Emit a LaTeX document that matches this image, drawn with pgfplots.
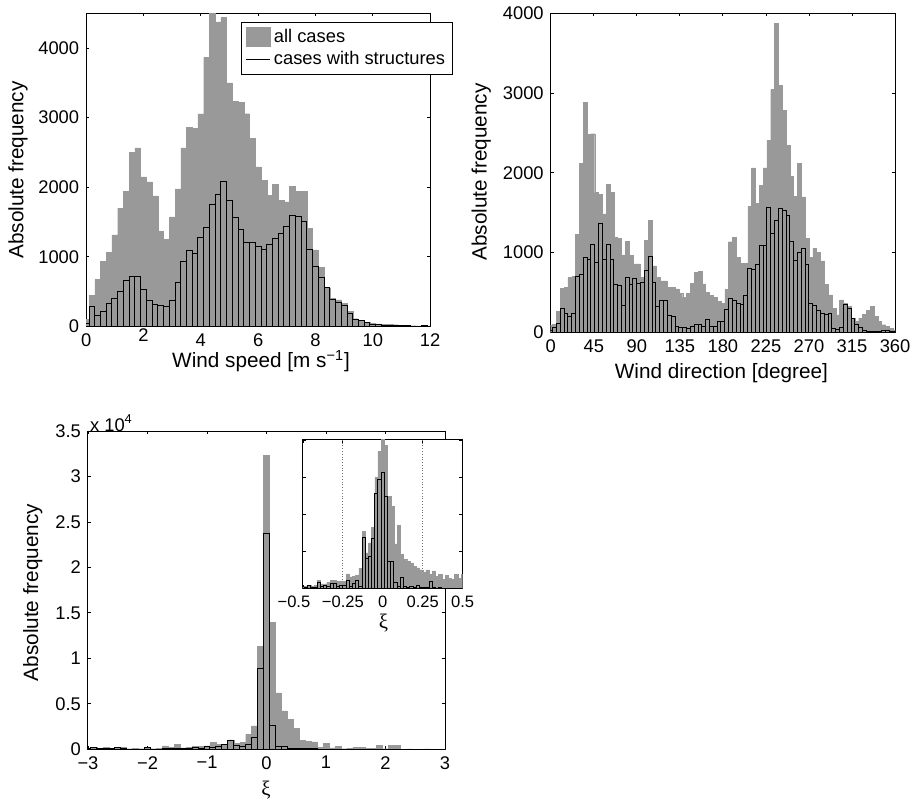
\documentclass[border=0pt]{standalone}
\usepackage{fontspec}
\setmainfont{Liberation Sans}
\newfontfamily\serif{Liberation Serif}
\usepackage{pgfplots}
\pgfplotsset{compat=1.18}
\definecolor{histgray}{RGB}{153,153,153}
\newcommand\tickfont{\fontsize{9.2}{10}\selectfont}
\newcommand\insetfont{\fontsize{8.3}{9}\selectfont}
\newcommand\labfont{\fontsize{10.4}{12}\selectfont}
\pgfplotsset{
  mat/.style={
    scale only axis,
    anchor=south west,
    tick align=inside,
    major tick length=1.6pt,
    axis line style={line width=0.5pt},
    every tick/.style={black, line width=0.4pt},
    tick label style={font=\tickfont},
    /pgf/number format/assume math mode=true,
    /pgf/number format/1000 sep={},
    scaled ticks=false,
    ymin=0,
  },
  allcases/.style={ybar, bar shift=0pt, bar width=#1, fill=histgray, draw=histgray, line width=0.2pt, forget plot},
  struct/.style={ybar, bar shift=0pt, bar width=#1, fill=histgray, draw=black, line width=0.5pt, forget plot},
}

\begin{document}
\begin{tikzpicture}
\path (0,0) rectangle (458.5pt,403.5pt);

% wind speed
\begin{axis}[mat,
  at={(43.25pt,241pt)}, width=172.6pt, height=157.2pt,
  xmin=0, xmax=12, ymax=4500,
  xtick={0,2,...,12},
  xticklabels={0,\smash{\raisebox{-4pt}{2}},4,6,8,10,12},
  ytick={0,1000,...,4000},
  legend style={at={(0.451,0.971)}, anchor=north west, draw=black, line width=0.5pt,
    font=\tickfont, legend cell align=left, inner xsep=2pt, inner ysep=1.5pt,
    nodes={inner sep=1.6pt}},
]
\addplot[allcases=0.2] coordinates {
(0,100)(0.2,450)(0.4,675)(0.6,930)(0.8,1064)(1.0,1313)(1.2,1695)(1.4,1945)(1.6,2496)(1.8,2563)
(2.0,2148)(2.2,2076)(2.4,1875)(2.6,1370)(2.8,1255)(3.0,1575)(3.2,1975)(3.4,2563)(3.6,2864)(3.8,2840)
(4.0,3052)(4.2,3866)(4.4,4600)(4.6,4375)(4.8,4439)(5.0,3500)(5.2,3236)(5.4,3222)(5.6,3055)(5.8,2697)
(6.0,2291)(6.2,2100)(6.4,1885)(6.6,2038)(6.8,1814)(7.0,1790)(7.2,2014)(7.4,1943)(7.6,1943)(7.8,1408)
(8.0,1098)(8.2,850)(8.4,549)(8.6,406)(8.8,382)(9.0,330)(9.2,215)(9.4,110)(9.6,85)(9.8,60)
(10.0,45)(10.2,35)(10.4,33)(10.6,29)(10.8,24)(11.0,15)(11.2,12)(11.4,10)(11.6,8)(11.8,12)(12.0,8)
};
\addplot[struct=0.2] coordinates {
(0,40)(0.2,286)(0.4,158)(0.6,215)(0.8,325)(1.0,401)(1.2,501)(1.4,654)(1.6,720)(1.8,711)
(2.0,525)(2.2,377)(2.4,310)(2.6,300)(2.8,282)(3.0,368)(3.2,635)(3.4,936)(3.6,1088)(3.8,1045)
(4.0,1284)(4.2,1422)(4.4,1757)(4.6,1890)(4.8,2086)(5.0,1814)(5.2,1561)(5.4,1389)(5.6,1208)(5.8,1208)
(6.0,1150)(6.2,1098)(6.4,1170)(6.6,1265)(6.8,1337)(7.0,1432)(7.2,1599)(7.4,1585)(7.6,1504)(7.8,1098)
(8.0,859)(8.2,702)(8.4,558)(8.6,391)(8.8,344)(9.0,300)(9.2,191)(9.4,100)(9.6,80)(9.8,55)
(10.0,33)(10.2,24)(10.4,19)(10.6,19)(10.8,14)(11.0,8)(11.2,6)(11.4,5)(11.6,4)(11.8,6)(12.0,3)
};
\addlegendimage{legend image code/.code={\fill[histgray] (0pt,-4.75pt) rectangle (12pt,4.75pt);}}
\addlegendentry{all cases}
\addlegendimage{legend image code/.code={\draw[black,line width=0.5pt] (0pt,0pt) -- (12pt,0pt);}}
\addlegendentry{cases with structures}
\end{axis}

% wind direction
\begin{axis}[mat,
  at={(276.35pt,238pt)}, width=172.8pt, height=160.2pt,
  xmin=0, xmax=360, ymax=4000,
  xtick={0,45,...,360},
  ytick={0,1000,...,4000},
]
\addplot[allcases=4] coordinates {
(0,90)(4,100)(8,262)(12,553)(16,562)(20,687)(24,699)(28,1228)(32,2122)(36,2884)
(40,2480)(44,2489)(48,1752)(52,1727)(56,1486)(60,1852)(64,1752)(68,1194)(72,1178)(76,970)
(80,1144)(84,961)(88,857)(92,857)(96,687)(100,1149)(104,1402)(108,832)(112,687)(116,645)
(120,645)(124,562)(128,562)(132,545)(136,491)(140,437)(144,491)(148,612)(152,753)(156,762)
(160,608)(164,499)(168,462)(172,437)(176,387)(180,366)(184,540)(188,1136)(192,1190)(196,936)
(200,866)(204,866)(208,1580)(212,2060)(216,1615)(220,1843)(224,2060)(228,2405)(232,3042)(236,3874)
(240,3092)(244,2780)(248,2343)(252,1956)(256,1706)(260,2114)(264,1698)(268,1178)(272,936)(276,1053)
(280,1003)(284,895)(288,603)(292,470)(296,304)(300,220)(304,408)(308,366)(312,330)(316,179)
(320,137)(324,180)(328,230)(332,280)(336,325)(340,200)(344,137)(348,96)(352,75)(356,54)(360,30)
};
\addplot[struct=4] coordinates {
(0,20)(4,60)(8,117)(12,304)(16,241)(20,200)(24,241)(28,699)(32,728)(36,940)
(40,916)(44,1107)(48,878)(52,1369)(56,916)(60,1103)(64,911)(68,603)(72,583)(76,333)
(80,691)(84,595)(88,670)(92,608)(96,624)(100,778)(104,945)(108,628)(112,329)(116,400)
(120,404)(124,216)(128,200)(132,75)(136,67)(140,62)(144,54)(148,75)(152,104)(156,104)
(160,71)(164,158)(168,75)(172,75)(176,137)(180,137)(184,283)(188,429)(192,395)(196,358)
(200,354)(204,458)(208,803)(212,791)(216,853)(220,1094)(224,1094)(228,1561)(232,1240)(236,1398)
(240,1552)(244,1523)(248,1469)(252,1144)(256,899)(260,1003)(264,1053)(268,845)(272,358)(276,337)
(280,270)(284,241)(288,220)(292,241)(296,46)(300,33)(304,62)(308,345)(312,300)(316,179)
(320,104)(324,67)(328,25)(332,17)(336,12)(340,12)(344,17)(348,21)(352,25)(356,12)(360,10)
};
\end{axis}

% xi, main
\begin{axis}[mat,
  at={(44.15pt,28.85pt)}, width=179.2pt, height=159.65pt,
  xmin=-3, xmax=3, ymax=35000,
  xtick={-3,...,3},
  xticklabels={−3,−2,−1,0,1,2,3},
  ytick={0,5000,...,35000},
  yticklabels={0,0.5,1,1.5,2,2.5,3,3.5},
]
\addplot[allcases=0.1] coordinates {
(-3.0,50)(-2.9,183)(-2.8,100)(-2.7,183)(-2.6,100)(-2.5,183)(-2.4,219)(-2.3,50)(-2.2,110)(-2.1,50)
(-2.0,183)(-1.9,50)(-1.8,110)(-1.7,365)(-1.6,183)(-1.5,548)(-1.4,150)(-1.3,183)(-1.2,292)(-1.1,292)
(-1.0,365)(-0.9,730)(-0.8,548)(-0.7,548)(-0.6,1022)(-0.5,657)(-0.4,730)(-0.3,1640)(-0.2,2560)(-0.1,11330)
(0,32340)(0.1,13920)(0.2,6200)(0.3,4200)(0.4,3250)(0.5,2300)(0.6,1000)(0.7,840)(0.8,800)(0.9,180)
(1.0,650)(1.1,150)(1.2,290)(1.3,50)(1.4,100)(1.5,219)(1.6,219)(1.7,100)(1.8,60)(1.9,400)
(2.0,50)(2.1,400)(2.2,400)(2.3,0)(2.4,20)(2.5,10)(2.6,0)(2.7,20)(2.8,0)(2.9,10)(3.0,0)
};
\addplot[struct=0.1] coordinates {
(-3.0,30)(-2.9,183)(-2.8,100)(-2.7,20)(-2.6,40)(-2.5,183)(-2.4,20)(-2.3,10)(-2.2,10)(-2.1,10)
(-2.0,183)(-1.9,10)(-1.8,10)(-1.7,110)(-1.6,60)(-1.5,60)(-1.4,60)(-1.3,60)(-1.2,219)(-1.1,110)
(-1.0,292)(-0.9,183)(-0.8,292)(-0.7,475)(-0.6,949)(-0.5,365)(-0.4,292)(-0.3,548)(-0.2,1314)(-0.1,8880)
(0,23680)(0.1,2555)(0.2,292)(0.3,292)(0.4,20)(0.5,20)(0.6,20)(0.7,110)(0.8,20)(0.9,10)
(1.0,10)(1.1,0)(1.2,0)(1.3,0)(1.4,0)(1.5,0)(1.6,0)(1.7,0)(1.8,0)(1.9,0)
(2.0,0)(2.1,0)(2.2,0)(2.3,0)(2.4,0)(2.5,0)(2.6,0)(2.7,0)(2.8,0)(2.9,0)(3.0,0)
};
\end{axis}

% xi, inset
\begin{axis}[mat,
  at={(152pt,109.5pt)}, width=80.15pt, height=74.5pt,
  axis background/.style={fill=white},
  tick label style={font=\insetfont},
  xmin=-0.5, xmax=0.5, ymax=8000,
  xtick={-0.5,-0.25,0,0.25,0.5},
  xticklabels={\hspace{-9pt}−0.5,−0.25,0,0.25,0.5},
  ytick={0,2000,...,8000},
  yticklabels={},
]
\draw[black!55, densely dotted, line width=0.4pt] (axis cs:-0.25,0) -- (axis cs:-0.25,8000);
\draw[black!55, densely dotted, line width=0.4pt] (axis cs:0.25,0) -- (axis cs:0.25,8000);
\addplot[allcases=0.02] coordinates {
(-0.50,70)(-0.48,125)(-0.46,180)(-0.44,125)(-0.42,180)(-0.40,448)(-0.38,251)(-0.36,251)(-0.34,340)(-0.32,448)
(-0.30,448)(-0.28,394)(-0.26,394)(-0.24,394)(-0.22,788)(-0.20,627)(-0.18,645)(-0.16,700)(-0.14,1100)(-0.12,3080)
(-0.10,1915)(-0.08,2450)(-0.06,3290)(-0.04,6000)(-0.02,7374)(0,8300)(0.02,7697)(0.04,4958)(0.06,4420)(0.08,2400)
(0.10,3400)(0.12,1850)(0.14,1560)(0.16,1470)(0.18,1380)(0.20,1200)(0.22,1110)(0.24,1000)(0.26,850)(0.28,1000)
(0.30,750)(0.32,950)(0.34,650)(0.36,750)(0.38,500)(0.40,700)(0.42,550)(0.44,500)(0.46,750)(0.48,550)(0.50,750)
};
\addplot[struct=0.02] coordinates {
(-0.50,20)(-0.48,72)(-0.46,179)(-0.44,72)(-0.42,72)(-0.40,340)(-0.38,125)(-0.36,161)(-0.34,125)(-0.32,251)
(-0.30,251)(-0.28,100)(-0.26,161)(-0.24,161)(-0.22,448)(-0.20,125)(-0.18,269)(-0.16,448)(-0.14,125)(-0.12,2757)
(-0.10,1611)(-0.08,1736)(-0.06,2667)(-0.04,5137)(-0.02,5853)(0,6265)(0.02,4958)(0.04,1468)(0.06,1468)(0.08,304)
(0.10,125)(0.12,609)(0.14,125)(0.16,72)(0.18,125)(0.20,72)(0.22,179)(0.24,36)(0.26,36)(0.28,36)
(0.30,358)(0.32,36)(0.34,20)(0.36,72)(0.38,20)(0.40,20)(0.42,20)(0.44,20)(0.46,20)(0.48,20)(0.50,20)
};
\end{axis}

% labels
\node[font=\labfont, rotate=90] at (9pt,319.5pt) {Absolute frequency};
\node[font=\labfont] at (131pt,223.5pt) {Wind speed [m s\textsuperscript{−1}]};
\node[font=\labfont, rotate=90] at (241.5pt,318.5pt) {Absolute frequency};
\node[font=\labfont] at (362pt,217.5pt) {Wind direction [degree]};
\node[font=\labfont, rotate=90] at (16.5pt,107.5pt) {Absolute frequency};
\node[font=\labfont] at (133.5pt,8.5pt) {\serif ξ};
\node[font=\labfont] at (192.5pt,92pt) {\serif ξ};
\node[font=\tickfont, anchor=west, inner sep=0pt] at (45pt,192.5pt) {x 10\textsuperscript{4}};
\end{tikzpicture}
\end{document}
